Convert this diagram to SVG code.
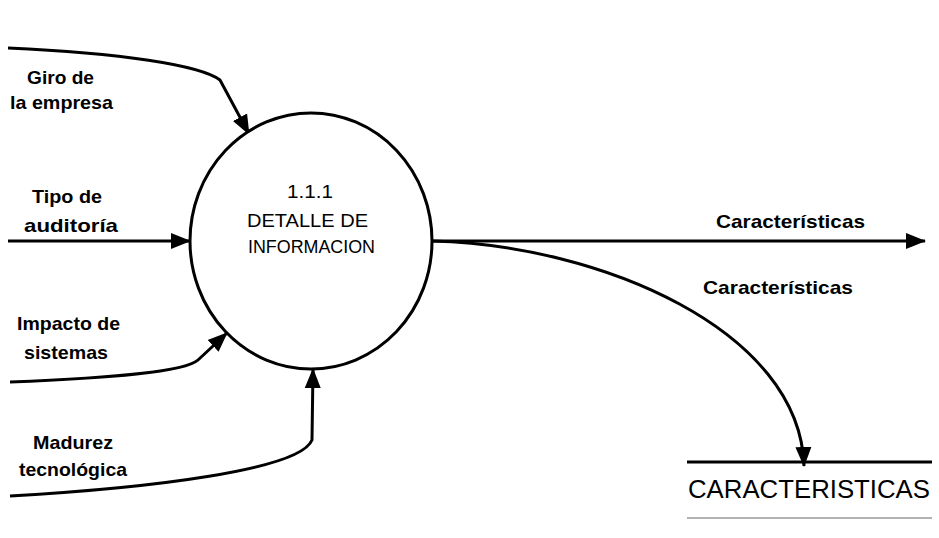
<svg xmlns="http://www.w3.org/2000/svg" width="939" height="538" viewBox="0 0 939 538">
<style>
.lbl{font-family:"Liberation Sans",Arial,sans-serif;font-size:19px;font-weight:bold;fill:#000}
.proc{font-family:"Liberation Sans",Arial,sans-serif;font-size:19px;fill:#000}
.flow{fill:none;stroke:#000;stroke-width:3}
</style>
<defs>
<marker id="ah" markerUnits="userSpaceOnUse" markerWidth="20" markerHeight="18" viewBox="0 0 20 18" refX="19" refY="9" orient="auto">
<path d="M0,1 L20,9 L0,17 Z" fill="#000"/>
</marker>
</defs>
<rect width="939" height="538" fill="#fff"/>
<g id="connectors">
<path class="flow" d="M8,48 C120,53 200,65 220,80 L249,134" marker-end="url(#ah)"/>
<path class="flow" d="M8,241 L190,241" marker-end="url(#ah)"/>
<path class="flow" d="M10,382 C110,378 185,372 198,360 L227,333" marker-end="url(#ah)"/>
<path class="flow" d="M10,496 C150,488 300,470 312,440 L313,369" marker-end="url(#ah)"/>
<path class="flow" d="M432,241 L925,241" marker-end="url(#ah)"/>
<path class="flow" d="M432,241 C600,245 800,330 804,466" marker-end="url(#ah)"/>
</g>
<g id="process">
<ellipse cx="311" cy="241" rx="121" ry="128" fill="#fff" stroke="#000" stroke-width="3"/>
<text class="proc" x="287" y="198" textLength="46" lengthAdjust="spacingAndGlyphs">1.1.1</text>
<text class="proc" x="247" y="227" textLength="121" lengthAdjust="spacingAndGlyphs">DETALLE DE</text>
<text class="proc" x="248" y="253" textLength="127" lengthAdjust="spacingAndGlyphs">INFORMACION</text>
</g>
<g id="store">
<line x1="687" y1="462" x2="932" y2="462" stroke="#000" stroke-width="3"/>
<text x="688" y="498" font-family="Liberation Sans, Arial, sans-serif" font-size="26" textLength="242" lengthAdjust="spacingAndGlyphs">CARACTERISTICAS</text>
<line x1="687" y1="518" x2="932" y2="518" stroke="#999" stroke-width="1.5"/>
</g>
<g id="labels">
<text class="lbl" x="27" y="84" textLength="67" lengthAdjust="spacingAndGlyphs">Giro de</text>
<text class="lbl" x="10" y="109" textLength="103" lengthAdjust="spacingAndGlyphs">la empresa</text>
<text class="lbl" x="32" y="203" textLength="70" lengthAdjust="spacingAndGlyphs">Tipo de</text>
<text class="lbl" x="24" y="232" textLength="94" lengthAdjust="spacingAndGlyphs">auditoría</text>
<text class="lbl" x="17" y="330" textLength="103" lengthAdjust="spacingAndGlyphs">Impacto de</text>
<text class="lbl" x="24" y="359" textLength="84" lengthAdjust="spacingAndGlyphs">sistemas</text>
<text class="lbl" x="33" y="449" textLength="80" lengthAdjust="spacingAndGlyphs">Madurez</text>
<text class="lbl" x="19" y="476" textLength="108" lengthAdjust="spacingAndGlyphs">tecnológica</text>
<text class="lbl" x="716" y="228" textLength="149" lengthAdjust="spacingAndGlyphs">Características</text>
<text class="lbl" x="703" y="294" textLength="150" lengthAdjust="spacingAndGlyphs">Características</text>
</g>
</svg>
